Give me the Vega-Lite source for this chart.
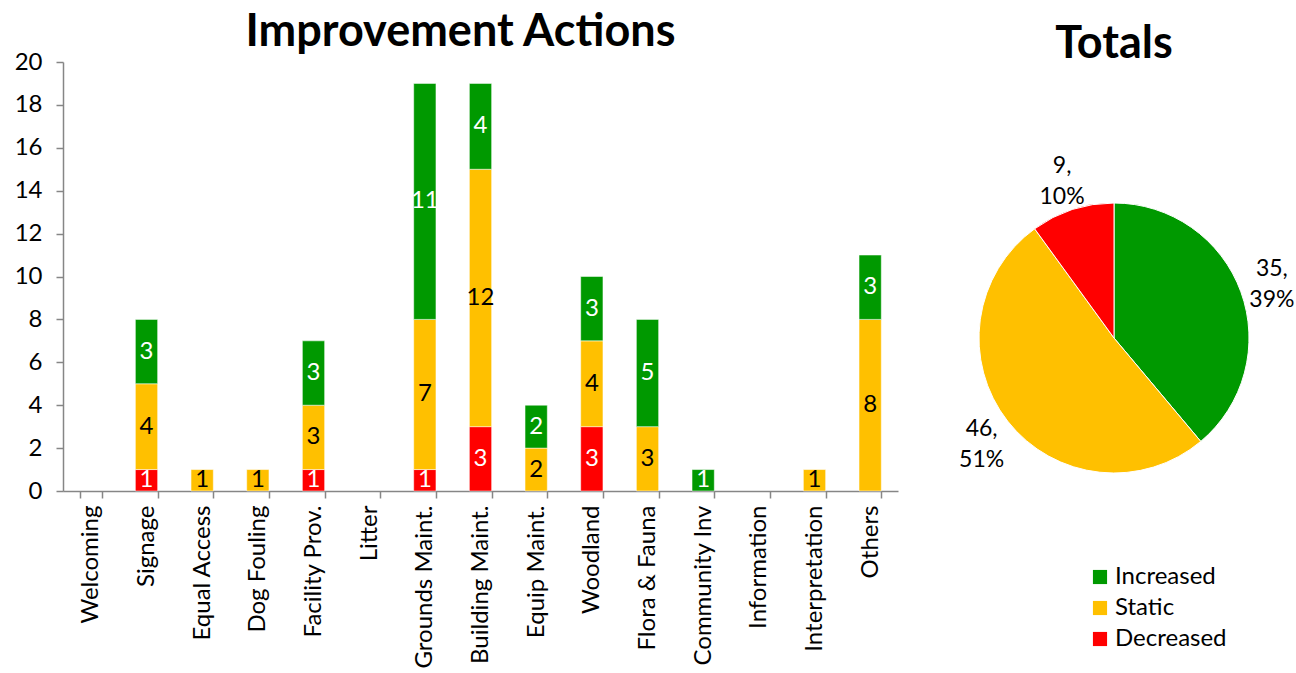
{
  "$schema": "https://vega.github.io/schema/vega-lite/v6.json",
  "background": "white",
  "padding": {"left": 14, "top": 10, "right": 5, "bottom": 5},
  "config": {
    "font": "Lato",
    "view": {"stroke": null},
    "concat": {"spacing": 36},
    "title": {"font": "Lato", "fontSize": 45, "fontWeight": "bold", "color": "black", "anchor": "middle"}
  },
  "resolve": {"scale": {"color": "independent"}, "legend": {"color": "independent"}},
  "datasets": {
    "actions": [
      {"category": "Signage", "status": "Decreased", "count": 1, "stackOrder": 1},
      {"category": "Signage", "status": "Static", "count": 4, "stackOrder": 2},
      {"category": "Signage", "status": "Increased", "count": 3, "stackOrder": 3},
      {"category": "Equal Access", "status": "Static", "count": 1, "stackOrder": 2},
      {"category": "Dog Fouling", "status": "Static", "count": 1, "stackOrder": 2},
      {"category": "Facility Prov.", "status": "Decreased", "count": 1, "stackOrder": 1},
      {"category": "Facility Prov.", "status": "Static", "count": 3, "stackOrder": 2},
      {"category": "Facility Prov.", "status": "Increased", "count": 3, "stackOrder": 3},
      {"category": "Grounds Maint.", "status": "Decreased", "count": 1, "stackOrder": 1},
      {"category": "Grounds Maint.", "status": "Static", "count": 7, "stackOrder": 2},
      {"category": "Grounds Maint.", "status": "Increased", "count": 11, "stackOrder": 3},
      {"category": "Building Maint.", "status": "Decreased", "count": 3, "stackOrder": 1},
      {"category": "Building Maint.", "status": "Static", "count": 12, "stackOrder": 2},
      {"category": "Building Maint.", "status": "Increased", "count": 4, "stackOrder": 3},
      {"category": "Equip Maint.", "status": "Static", "count": 2, "stackOrder": 2},
      {"category": "Equip Maint.", "status": "Increased", "count": 2, "stackOrder": 3},
      {"category": "Woodland", "status": "Decreased", "count": 3, "stackOrder": 1},
      {"category": "Woodland", "status": "Static", "count": 4, "stackOrder": 2},
      {"category": "Woodland", "status": "Increased", "count": 3, "stackOrder": 3},
      {"category": "Flora & Fauna", "status": "Static", "count": 3, "stackOrder": 2},
      {"category": "Flora & Fauna", "status": "Increased", "count": 5, "stackOrder": 3},
      {"category": "Community Inv", "status": "Increased", "count": 1, "stackOrder": 3},
      {"category": "Interpretation", "status": "Static", "count": 1, "stackOrder": 2},
      {"category": "Others", "status": "Static", "count": 8, "stackOrder": 2},
      {"category": "Others", "status": "Increased", "count": 3, "stackOrder": 3}
    ],
    "totals": [
      {"status": "Increased", "count": 35, "label": "35,\n39%", "pieOrder": 1},
      {"status": "Static", "count": 46, "label": "46,\n51%", "pieOrder": 2},
      {"status": "Decreased", "count": 9, "label": "9,\n10%", "pieOrder": 3}
    ]
  },
  "hconcat": [
    {
      "width": 835,
      "height": 429,
      "title": {"text": "Improvement Actions", "offset": -5, "dx": -20},
      "data": {"name": "actions"},
      "encoding": {
        "x": {
          "field": "category",
          "type": "nominal",
          "sort": null,
          "scale": {
            "domain": ["Welcoming", "Signage", "Equal Access", "Dog Fouling", "Facility Prov.", "Litter", "Grounds Maint.", "Building Maint.", "Equip Maint.", "Woodland", "Flora & Fauna", "Community Inv", "Information", "Interpretation", "Others"],
            "paddingInner": 0.6,
            "paddingOuter": 0.3
          },
          "axis": {
            "title": null,
            "labelAngle": -90,
            "labelAlign": "right",
            "labelBaseline": "middle",
            "labelFontSize": 24,
            "labelColor": "black",
            "labelLimit": 400,
            "labelOverlap": false,
            "labelPadding": 7,
            "tickBand": "extent",
            "tickSize": 7,
            "tickColor": "#868686",
            "tickWidth": 1.5,
            "domainColor": "#868686",
            "domainWidth": 1.5,
            "grid": false
          }
        },
        "y": {
          "field": "count",
          "type": "quantitative",
          "stack": "zero",
          "scale": {"domain": [0, 20], "nice": false},
          "axis": {
            "title": null,
            "values": [0, 2, 4, 6, 8, 10, 12, 14, 16, 18, 20],
            "labelFontSize": 24,
            "labelColor": "black",
            "labelPadding": 14,
            "tickSize": 7,
            "tickColor": "#868686",
            "tickWidth": 1.5,
            "domainColor": "#868686",
            "domainWidth": 1.5,
            "grid": false
          }
        },
        "order": {"field": "stackOrder", "type": "quantitative"}
      },
      "layer": [
        {
          "mark": {"type": "bar", "stroke": "white", "strokeWidth": 0.5},
          "encoding": {
            "color": {
              "field": "status",
              "type": "nominal",
              "scale": {"domain": ["Increased", "Static", "Decreased"], "range": ["#009900", "#FFC000", "#FF0000"]},
              "legend": null
            }
          }
        },
        {
          "mark": {"type": "text", "fontSize": 24, "baseline": "middle", "align": "center"},
          "encoding": {
            "y": {"field": "count", "type": "quantitative", "stack": "zero", "bandPosition": 0.5},
            "detail": {"field": "status", "type": "nominal"},
            "text": {"field": "count", "type": "quantitative"},
            "color": {"condition": {"test": "datum.status === 'Static'", "value": "black"}, "value": "white"}
          }
        }
      ]
    },
    {
      "width": 360,
      "height": 552,
      "title": {"text": "Totals", "offset": -5},
      "data": {"name": "totals"},
      "encoding": {
        "theta": {"field": "count", "type": "quantitative", "stack": true},
        "order": {"field": "pieOrder", "type": "quantitative"}
      },
      "layer": [
        {
          "mark": {"type": "arc", "outerRadius": 135, "stroke": "white", "strokeWidth": 1},
          "encoding": {
            "color": {
              "field": "status",
              "type": "nominal",
              "scale": {"domain": ["Increased", "Static", "Decreased"], "range": ["#009900", "#FFC000", "#FF0000"]},
              "legend": {
                "title": null,
                "orient": "none",
                "legendX": 154,
                "legendY": 503,
                "symbolType": "square",
                "symbolSize": 200,
                "symbolStrokeWidth": 0,
                "labelFontSize": 24,
                "labelColor": "black",
                "labelOffset": 3,
                "rowPadding": 7
              }
            }
          }
        },
        {
          "mark": {"type": "text", "radius": 168, "dy": -12, "fontSize": 23, "lineBreak": "\n", "lineHeight": 31, "color": "black", "align": "center", "baseline": "middle"},
          "encoding": {
            "detail": {"field": "status", "type": "nominal"},
            "text": {"field": "label", "type": "nominal"}
          }
        }
      ]
    }
  ]
}
